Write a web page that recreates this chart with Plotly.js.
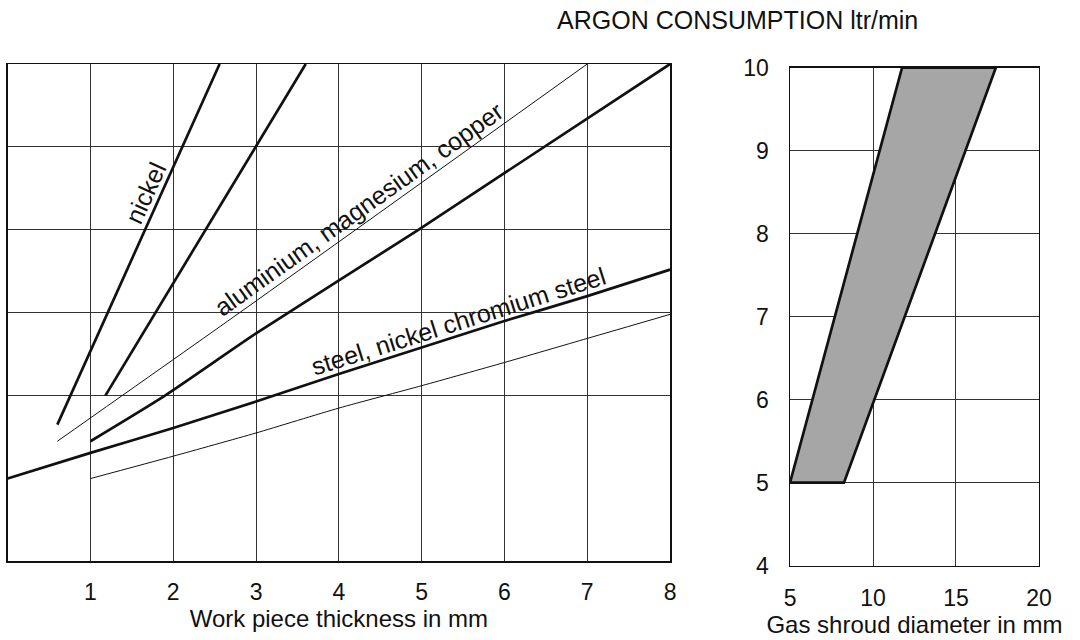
<!DOCTYPE html>
<html><head><meta charset="utf-8">
<script src="https://cdn.plot.ly/plotly-3.0.1.min.js"></script>
<style>html,body{margin:0;padding:0;background:#fff}#chart{width:1080px;height:640px}</style>
</head><body><div id="chart"></div>
<script>
// ---- Left panel: work piece thickness (mm) -> argon consumption (ltr/min)
const nickelLowX = [0.6, 2.56];
const nickelLowY = [5.65, 10.0];
const nickelHighX = [1.18, 3.6];
const nickelHighY = [6.0, 10.0];
const alumThinX = [0.6, 2.8, 7.0];
const alumThinY = [5.45, 7.0, 10.0];
const alumThickX = [1.0, 1.9, 3.0, 4.96, 8.0];
const alumThickY = [5.45, 6.0, 6.75, 8.0, 10.0];
const steelThickX = [0, 1, 2, 3, 4, 5, 6, 7, 8];
const steelThickY = [5.0, 5.31, 5.61, 5.93, 6.26, 6.58, 6.90, 7.20, 7.52];
const steelThinX = [1, 2, 3, 4, 5, 6, 7, 8];
const steelThinY = [5.0, 5.27, 5.55, 5.85, 6.12, 6.40, 6.69, 6.98];
const thicknessTicks = [1, 2, 3, 4, 5, 6, 7, 8];
const leftGridY = [6, 7, 8, 9];

// ---- Right panel: gas shroud diameter (mm) -> argon consumption band
const bandX = [5, 8.25, 17.4, 11.75, 5];
const bandY = [5, 5, 10, 10, 5];
const shroudTicks = [5, 10, 15, 20];
const consumptionTicks = [4, 5, 6, 7, 8, 9, 10];

// ---- Labels
const labelText = ['nickel', 'aluminium, magnesium, copper', 'steel, nickel chromium steel'];
const labelX = [1.66, 4.24, 5.45];
const labelY = [8.45, 8.25, 6.90];
const labelAngle = [-65.5, -35.5, -17.5];

const FONT = 'Liberation Sans, Arial, Helvetica, sans-serif';
const INK = '#111';

function line(x, y, w, xa, ya) {
  return {type: 'scatter', mode: 'lines', x: x, y: y, xaxis: xa, yaxis: ya,
          line: {color: INK, width: w, shape: 'spline', smoothing: 0.6}, hoverinfo: 'skip'};
}

const data = [
  line(nickelLowX, nickelLowY, 2.7, 'x', 'y'),
  line(nickelHighX, nickelHighY, 2.7, 'x', 'y'),
  line(alumThinX, alumThinY, 1, 'x', 'y'),
  line(alumThickX, alumThickY, 2.7, 'x', 'y'),
  line(steelThickX, steelThickY, 2.7, 'x', 'y'),
  line(steelThinX, steelThinY, 1, 'x', 'y'),
  {type: 'scatter', mode: 'lines', x: bandX, y: bandY, xaxis: 'x2', yaxis: 'y2',
   fill: 'toself', fillcolor: '#a6a6a6', line: {color: INK, width: 2.7}, hoverinfo: 'skip'}
];

const axisCommon = {
  showgrid: true, gridcolor: '#333', gridwidth: 1,
  showline: true, mirror: true, linecolor: INK, linewidth: 1.5,
  zeroline: false, ticks: '', fixedrange: true,
  tickfont: {family: FONT, size: 23, color: INK}
};

const layout = {
  width: 1080, height: 640,
  margin: {l: 0, r: 0, t: 0, b: 0},
  paper_bgcolor: '#fff', plot_bgcolor: '#fff',
  showlegend: false, hovermode: false,
  font: {family: FONT, color: INK},
  title: {text: 'ARGON CONSUMPTION ltr/min', font: {family: FONT, size: 25, color: INK},
          x: 0.683, xanchor: 'center', y: 0.968, yanchor: 'middle'},
  xaxis: Object.assign({}, axisCommon, {
    domain: [0.0071, 0.6204], range: [0, 8], anchor: 'y',
    tickvals: thicknessTicks, ticktext: thicknessTicks.map(String), ticklabelstandoff: 9,
    title: {text: 'Work piece thickness in mm', font: {family: FONT, size: 24, color: INK}, standoff: 0}
  }),
  yaxis: Object.assign({}, axisCommon, {
    domain: [0.1227, 0.9], range: [4, 10], anchor: 'x',
    tickvals: leftGridY, showticklabels: false
  }),
  xaxis2: Object.assign({}, axisCommon, {
    domain: [0.7315, 0.962], range: [5, 20], anchor: 'y2',
    tickvals: shroudTicks, ticktext: shroudTicks.map(String), ticklabelstandoff: 11,
    title: {text: 'Gas shroud diameter in mm', font: {family: FONT, size: 24, color: INK}, standoff: 0}
  }),
  yaxis2: Object.assign({}, axisCommon, {
    domain: [0.1161, 0.8942], range: [4, 10], anchor: 'x2',
    tickvals: consumptionTicks, ticktext: consumptionTicks.map(String), ticklabelstandoff: 15
  }),
  annotations: labelText.map((t, i) => ({
    text: t, x: labelX[i], y: labelY[i], xref: 'x', yref: 'y',
    xanchor: 'center', yanchor: 'middle', textangle: labelAngle[i], showarrow: false,
    font: {family: FONT, size: 25, color: INK}
  }))
};

Plotly.newPlot('chart', data, layout, {staticPlot: true, displayModeBar: false});
</script>
</body></html>
